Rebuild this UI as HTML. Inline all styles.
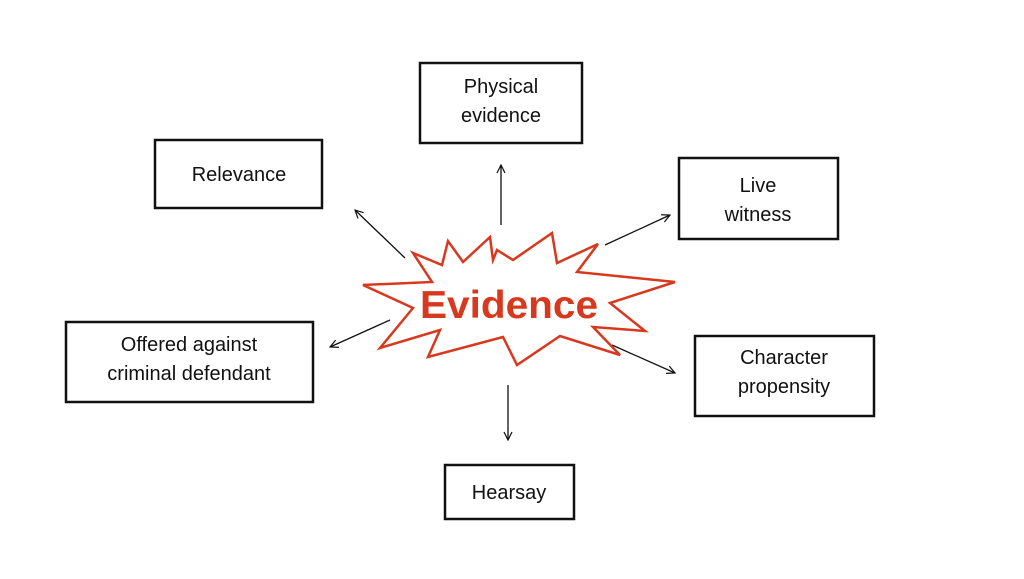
<!DOCTYPE html>
<html><head><style>
body{margin:0;background:#fff;}
svg{display:block;}
text{font-family:"Liberation Sans",sans-serif;}
</style></head><body>
<svg width="1024" height="579" viewBox="0 0 1024 579">
<defs><marker id="a" markerWidth="10" markerHeight="10" refX="9" refY="5" orient="auto" markerUnits="userSpaceOnUse"><path d="M1,1 L9,5 L1,9" fill="none" stroke="#111" stroke-width="1.2"/></marker></defs>
<g fill="none" stroke="#111" stroke-width="2.5">
<rect x="420" y="63" width="162" height="80"/>
<rect x="155" y="140" width="167" height="68"/>
<rect x="679" y="158" width="159" height="81"/>
<rect x="66" y="322" width="247" height="80"/>
<rect x="695" y="336" width="179" height="80"/>
<rect x="445" y="465" width="129" height="54"/>
</g>
<g stroke="#111" stroke-width="1.3" marker-end="url(#a)">
<line x1="501" y1="225" x2="501" y2="165"/>
<line x1="405" y1="258" x2="355" y2="210"/>
<line x1="605" y1="245" x2="670" y2="215"/>
<line x1="390" y1="320" x2="330" y2="347"/>
<line x1="612" y1="345" x2="675" y2="373"/>
<line x1="508" y1="385" x2="508" y2="440"/>
</g>
<polygon fill="#fff" stroke="#d7391e" stroke-width="2.5" points="363,285 432,282 413,253 442,265 448,241 463,262 490,237 493,260 497,250 513,260 552,233 557,263 598,244 577,272 675,282 610,303 645,331 593,327 620,355 560,336 517,365 503,337 428,357 440,330 380,348 413,308"/>
<text x="509" y="318" text-anchor="middle" font-size="39" font-weight="bold" fill="#d7391e" textLength="178" lengthAdjust="spacingAndGlyphs">Evidence</text>
<g font-size="20" fill="#111" text-anchor="middle">
<text x="501" y="93">Physical</text><text x="501" y="122">evidence</text>
<text x="239" y="181">Relevance</text>
<text x="758" y="192">Live</text><text x="758" y="221">witness</text>
<text x="189" y="351">Offered against</text><text x="189" y="380">criminal defendant</text>
<text x="784" y="364">Character</text><text x="784" y="393">propensity</text>
<text x="509" y="499">Hearsay</text>
</g>
</svg>
</body></html>
